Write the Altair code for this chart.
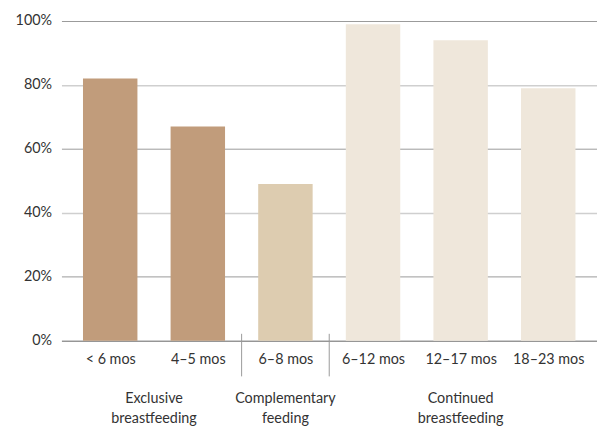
import altair as alt
import pandas as pd

categories = ["< 6 mos", "4–5 mos", "6–8 mos", "6–12 mos", "12–17 mos", "18–23 mos"]
values = [82, 67, 49, 99, 94, 79]
groups = ["Exclusive", "Exclusive", "Complementary", "Continued", "Continued", "Continued"]
group_names = ["Exclusive", "Complementary", "Continued"]
group_labels = ["Exclusive\nbreastfeeding", "Complementary\nfeeding", "Continued\nbreastfeeding"]
group_colors = ["#C19C7B", "#DDCCB0", "#EFE7DB"]
y_ticks = [0, 20, 40, 60, 80, 100]

FONT = "Lato"
FS = 14.5
TEXT = "#333333"

bars = pd.DataFrame({"idx": list(range(len(categories))), "cat": categories,
                     "value": values, "group": groups})

glab = pd.DataFrame({
    "group": group_names,
    "label": group_labels,
    "pos": [sum(i for i, g in enumerate(groups) if g == n) / groups.count(n) for n in group_names],
})
seps = pd.DataFrame({"pos": [i - 0.5 for i in range(1, len(groups)) if groups[i] != groups[i - 1]]})

W, H = 541, 323
xscale = alt.Scale(domain=[-0.5, len(categories) - 0.5], nice=False, zero=False)
label_expr = "[" + ",".join("'" + c + "'" for c in categories) + "][datum.value]"

bar = alt.Chart(bars).mark_bar(size=55).encode(
    x=alt.X("idx:Q", scale=xscale, title=None,
            axis=alt.Axis(values=list(range(len(categories))), labelExpr=label_expr,
                          grid=False, ticks=False, domain=True, domainColor="#8c8c8c",
                          domainWidth=1, labelFont=FONT, labelFontSize=FS, labelColor=TEXT,
                          labelPadding=12)),
    y=alt.Y("value:Q", scale=alt.Scale(domain=[0, 100], nice=False), title=None,
            axis=alt.Axis(values=y_ticks, labelExpr="datum.value + '%'", ticks=False, domain=False,
                          grid=True,
                          gridColor={"condition": {"test": "datum.value == 80 || datum.value == 40",
                                                   "value": "#cfcfcf"}, "value": "#9a9a9a"},
                          gridWidth={"condition": {"test": "datum.value == 80 || datum.value == 40",
                                                   "value": 1.5}, "value": 1},
                          labelFont=FONT, labelFontSize=FS, labelColor=TEXT, labelPadding=10)),
    color=alt.Color("group:N", scale=alt.Scale(domain=group_names, range=group_colors), legend=None),
)

sep = alt.Chart(seps).mark_rule(color="#9a9a9a", strokeWidth=1).encode(
    x=alt.X("pos:Q", scale=xscale),
    y=alt.value(H - 7),
    y2=alt.value(H + 36),
)

txt = alt.Chart(glab).mark_text(font=FONT, fontSize=FS, color=TEXT, lineBreak="\n",
                                lineHeight=20, baseline="middle", align="center").encode(
    x=alt.X("pos:Q", scale=xscale),
    y=alt.value(H + 59),
    text="label:N",
)

chart = alt.layer(bar, sep, txt).properties(
    width=W, height=H,
    padding={"left": 54, "top": 11, "right": 0, "bottom": 86},
    autosize=alt.AutoSizeParams(type="none"),
).configure_view(stroke=None)

chart.save("out.html", embed_options={"renderer": "svg", "actions": False})
